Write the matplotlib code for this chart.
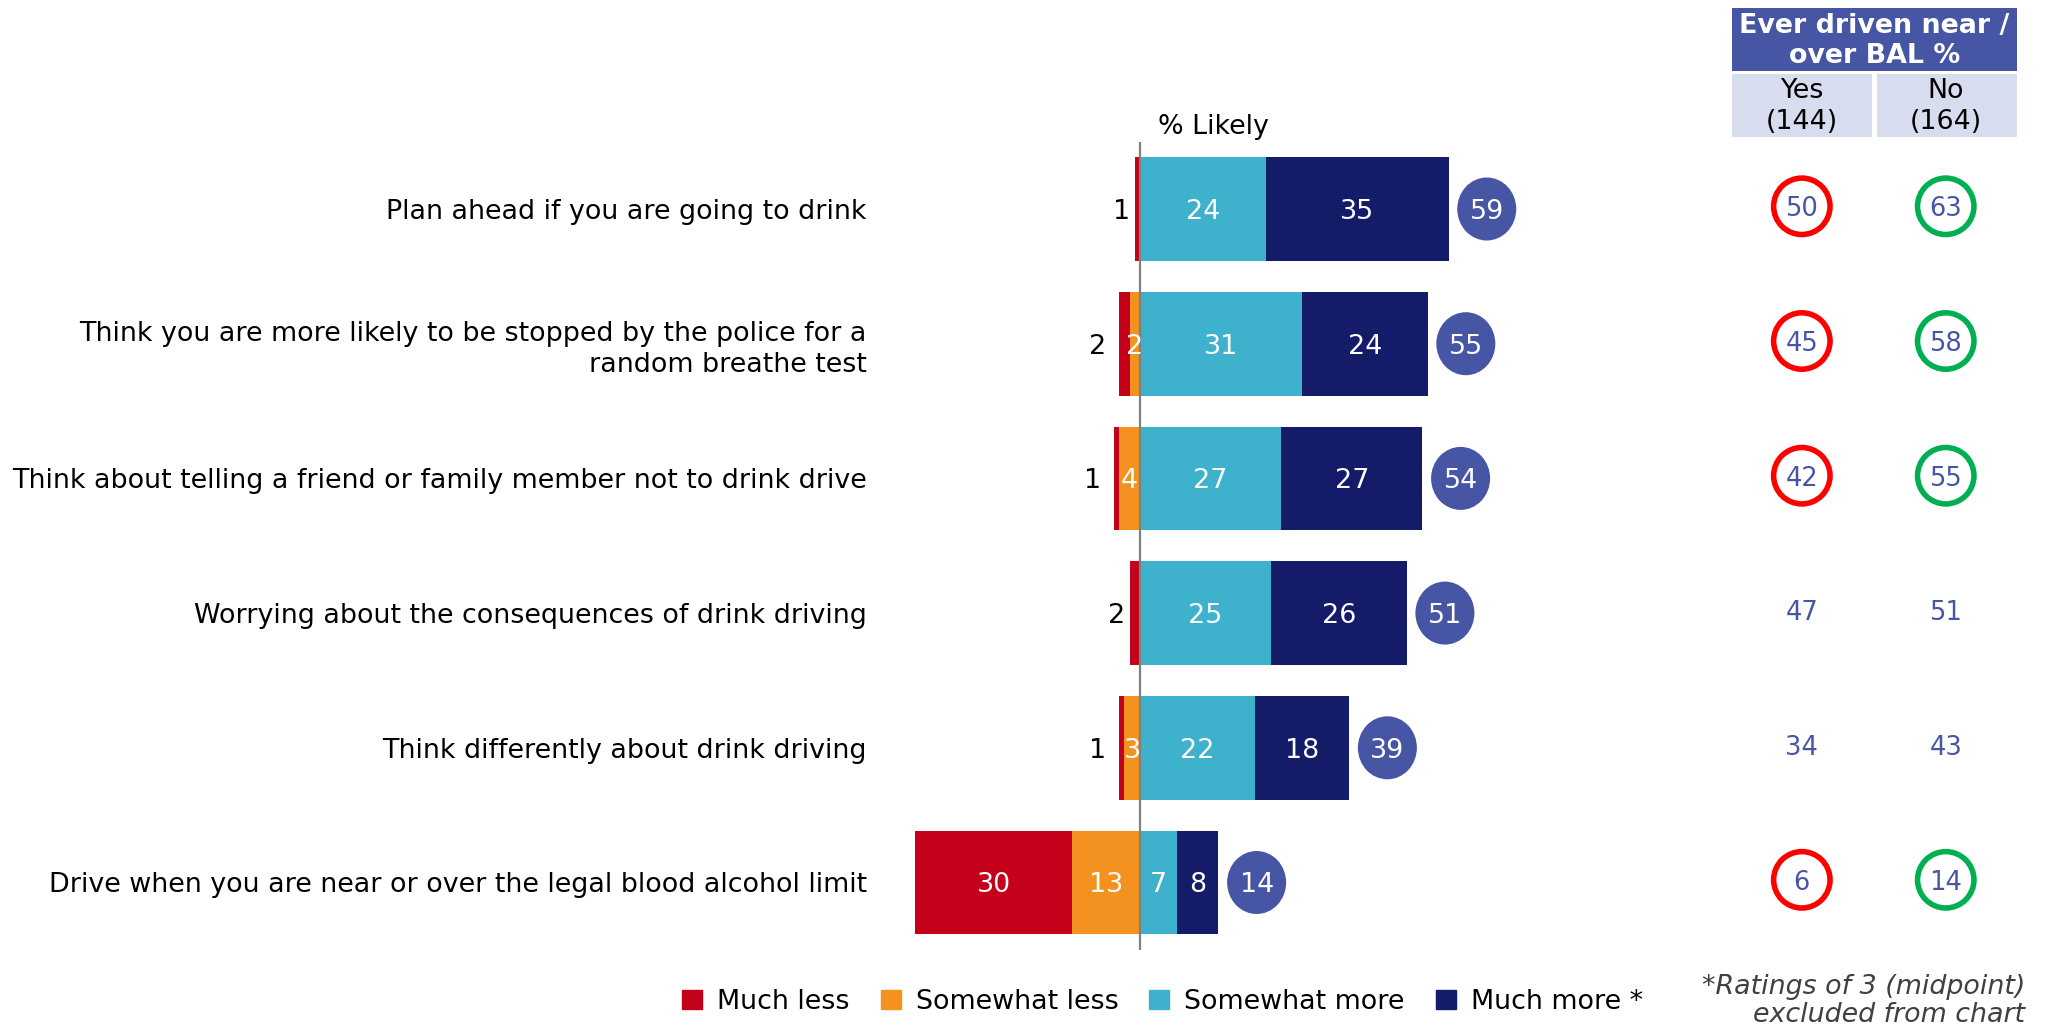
import matplotlib
matplotlib.use("Agg")
from matplotlib import pyplot as plt
from matplotlib.patches import Ellipse, Rectangle, Patch

categories = [
    "Plan ahead if you are going to drink",
    "Think you are more likely to be stopped by the police for a\nrandom breathe test",
    "Think about telling a friend or family member not to drink drive",
    "Worrying about the consequences of drink driving",
    "Think differently about drink driving",
    "Drive when you are near or over the legal blood alcohol limit",
]
much_less = [1, 2, 1, 2, 1, 30]
somewhat_less = [0, 2, 4, 0, 3, 13]
somewhat_more = [24, 31, 27, 25, 22, 7]
much_more = [35, 24, 27, 26, 18, 8]
likely_total = [59, 55, 54, 51, 39, 14]

yes_pct = [50, 45, 42, 47, 34, 6]
no_pct = [63, 58, 55, 51, 43, 14]
sig_diff = [True, True, True, False, False, True]

series_names = ["Much less", "Somewhat less", "Somewhat more", "Much more *"]
RED = "#C5001A"
ORANGE = "#F39220"
CYAN = "#3EB1CC"
NAVY = "#141C6A"
PURPLE = "#4755A5"
CELL = "#D7DCEE"

W, H = 2047, 1033
ZERO_PX = 1140      # where 0% sits
PX_PER_UNIT = 5.23
ROW0_PX = 209
ROW_STEP = 134.7
FS = 19.4
VA = "center_baseline"

fig = plt.figure(figsize=(W / 100, H / 100), dpi=100)

# bars axes covers the whole figure so labels can live in data coords
ax = fig.add_axes([0, 0, 1, 1])
ax.set_xlim(-ZERO_PX / PX_PER_UNIT, (W - ZERO_PX) / PX_PER_UNIT)
ylim = (-ROW0_PX / ROW_STEP, (H - ROW0_PX) / ROW_STEP)
ax.set_ylim(ylim[1], ylim[0])
ax.axis("off")

rows = list(range(len(categories)))
bar_h = 0.77

neg_inner = [-v for v in somewhat_less]
neg_outer = [-(a + b) for a, b in zip(somewhat_less, much_less)]
ax.barh(rows, much_less, left=neg_outer, height=bar_h, color=RED)
ax.barh(rows, somewhat_less, left=neg_inner, height=bar_h, color=ORANGE)
ax.barh(rows, somewhat_more, left=0, height=bar_h, color=CYAN)
ax.barh(rows, much_more, left=somewhat_more, height=bar_h, color=NAVY)

ax.vlines(0, -0.5, 5.5, color="#808080", lw=1.6, zorder=3)
ax.text(3.4, -0.56, "% Likely", fontsize=FS, va="baseline", ha="left")

for i in rows:
    ml, sl, sm, mm = much_less[i], somewhat_less[i], somewhat_more[i], much_more[i]
    ax.text(-52.2, i, categories[i], fontsize=FS, ha="right", va=VA,
            linespacing=1.25)
    # much less: outside in black when the segment is thin
    if ml < 5:
        off = 0.8 if sl == 0 else 2.5
        ax.text(-(ml + sl) - off, i, str(ml), fontsize=FS, ha="right",
                va=VA, color="black")
    else:
        ax.text(-sl - ml / 2, i, str(ml), fontsize=FS, ha="center",
                va=VA, color="white")
    if sl > 0:
        ax.text(-sl / 2, i, str(sl), fontsize=FS, ha="center", va=VA,
                color="white")
    ax.text(sm / 2, i, str(sm), fontsize=FS, ha="center", va=VA,
            color="white")
    ax.text(sm + mm / 2, i, str(mm), fontsize=FS, ha="center", va=VA,
            color="white")
    # net likely bubble at end of bar
    cx = sm + mm + 7.3
    ax.add_patch(Ellipse((cx, i), 59 / PX_PER_UNIT, 63 / ROW_STEP,
                         color=PURPLE, lw=0))
    ax.text(cx, i, str(likely_total[i]), fontsize=FS, ha="center",
            va=VA, color="white")

# side table: ever driven near / over BAL
tx0, tx1 = 1732, 2017
tab = fig.add_axes([tx0 / W, 0, (tx1 - tx0) / W, 1])
tab.set_xlim(0, 2)
tab.set_ylim(ylim[1], ylim[0])
tab.axis("off")

def py(px):
    return (px - ROW0_PX) / ROW_STEP

tab.add_patch(Rectangle((0, py(8)), 2, py(71) - py(8), color=PURPLE, lw=0))
tab.text(1, (py(8) + py(71)) / 2 + 0.01, "Ever driven near /\nover BAL %",
         fontsize=FS, fontweight="bold", color="white", ha="center",
         va="center", linespacing=1.2)
tab.add_patch(Rectangle((0, py(74)), 0.985, py(137) - py(74), color=CELL, lw=0))
tab.add_patch(Rectangle((1.015, py(74)), 0.985, py(137) - py(74), color=CELL, lw=0))
tab.text(0.49, (py(74) + py(137)) / 2 + 0.01, "Yes\n(144)", fontsize=FS,
         ha="center", va="center", linespacing=1.25)
tab.text(1.5, (py(74) + py(137)) / 2 + 0.01, "No\n(164)", fontsize=FS,
         ha="center", va="center", linespacing=1.25)

for i in rows:
    y = i - 0.02
    tab.text(0.49, y, str(yes_pct[i]), fontsize=18.5, color=PURPLE,
             ha="center", va=VA)
    tab.text(1.5, y, str(no_pct[i]), fontsize=18.5, color=PURPLE,
             ha="center", va=VA)
    if sig_diff[i]:
        tab.scatter([0.49], [y], s=1650, facecolors="none",
                    edgecolors="#FF0000", linewidths=4)
        tab.scatter([1.5], [y], s=1650, facecolors="none",
                    edgecolors="#00B050", linewidths=4)

handles = [Patch(color=c) for c in (RED, ORANGE, CYAN, NAVY)]
fig.legend(handles, series_names, loc="center left", ncol=4,
           bbox_to_anchor=(682 / W, 1 - 1002 / H), frameon=False,
           fontsize=FS, handlelength=0.75, handleheight=0.75,
           handletextpad=0.55, columnspacing=1.15, borderpad=0,
           borderaxespad=0)

fig.text(2025 / W, 1 - 1001 / H, "*Ratings of 3 (midpoint)\nexcluded from chart",
         fontsize=FS, style="italic", color="#404040", ha="right",
         va="center", multialignment="right", linespacing=1.15)

fig.savefig("out.png", dpi=100)
